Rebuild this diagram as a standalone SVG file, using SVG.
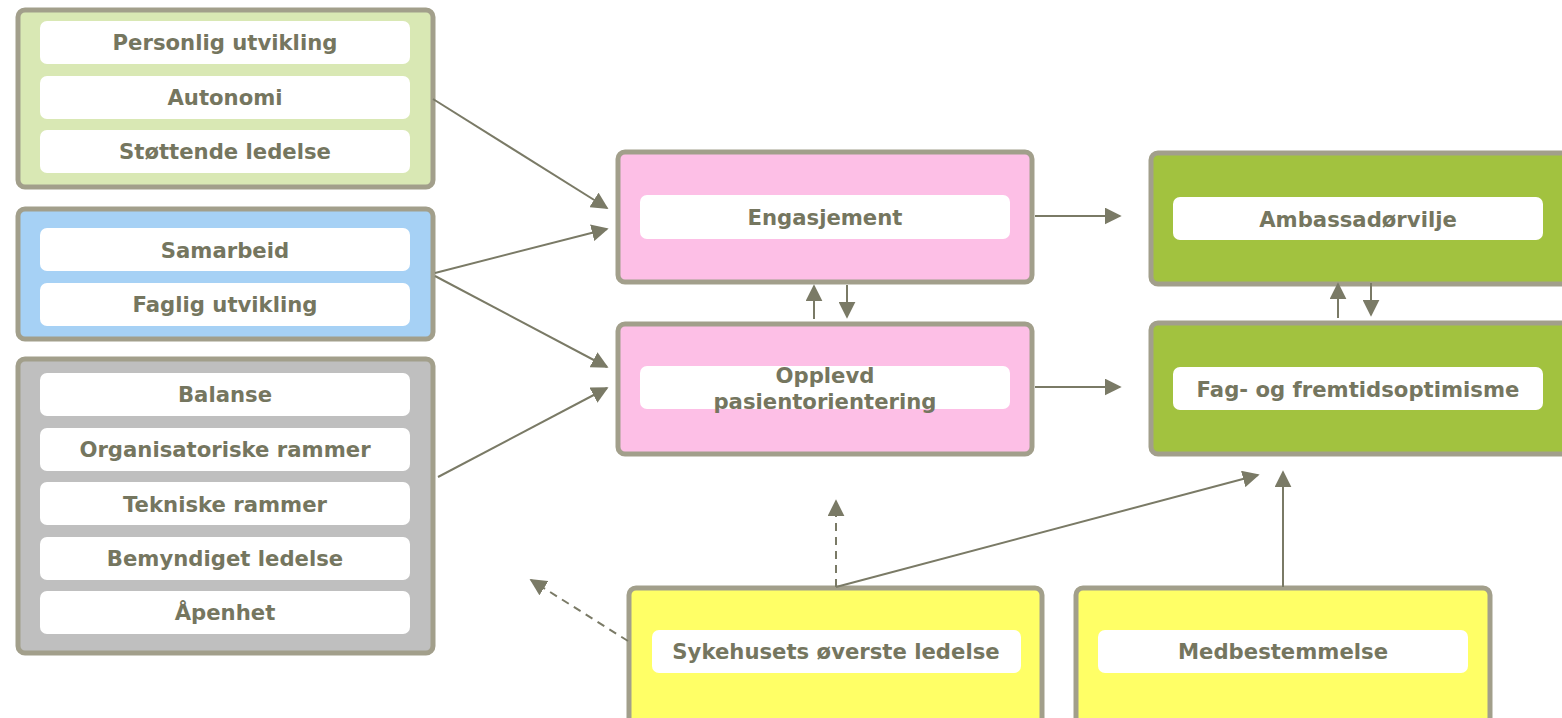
<svg xmlns="http://www.w3.org/2000/svg" width="1562" height="718" viewBox="0 0 1562 718">
<defs>
<marker id="ah" viewBox="0 0 10 10" refX="9" refY="5" markerWidth="17" markerHeight="17" markerUnits="userSpaceOnUse" orient="auto"><path d="M0,0 L10,5 L0,10 z" fill="#7a7a66"/></marker>
<style>
.outer{stroke:#a29f8b;stroke-width:5}
.inner{fill:#ffffff}
.t{font-family:"DejaVu Sans",Verdana,sans-serif;font-weight:bold;font-size:21.2px;fill:#75765f;text-anchor:middle}
.c{stroke:#7a7a66;stroke-width:2;fill:none;marker-end:url(#ah)}
.d{stroke-dasharray:8,6}
</style>
</defs>
<rect width="1562" height="718" fill="#ffffff"/>
<g id="group-green">
<rect class="outer" x="18" y="10" width="415" height="177" rx="7" fill="#d9e8b4"/>
<rect class="inner" x="40" y="21" width="370" height="43" rx="7"/>
<text class="t" x="225" y="50">Personlig utvikling</text>
<rect class="inner" x="40" y="76" width="370" height="43" rx="7"/>
<text class="t" x="225" y="105">Autonomi</text>
<rect class="inner" x="40" y="130" width="370" height="43" rx="7"/>
<text class="t" x="225" y="159">Støttende ledelse</text>
</g>
<g id="group-blue">
<rect class="outer" x="18" y="209" width="415" height="130" rx="7" fill="#a6d1f5"/>
<rect class="inner" x="40" y="228" width="370" height="43" rx="7"/>
<text class="t" x="225" y="258">Samarbeid</text>
<rect class="inner" x="40" y="283" width="370" height="43" rx="7"/>
<text class="t" x="225" y="312">Faglig utvikling</text>
</g>
<g id="group-gray">
<rect class="outer" x="18" y="359" width="415" height="294" rx="7" fill="#bfbfbf"/>
<rect class="inner" x="40" y="373" width="370" height="43" rx="7"/>
<text class="t" x="225" y="402">Balanse</text>
<rect class="inner" x="40" y="428" width="370" height="43" rx="7"/>
<text class="t" x="225" y="457">Organisatoriske rammer</text>
<rect class="inner" x="40" y="482" width="370" height="43" rx="7"/>
<text class="t" x="225" y="512">Tekniske rammer</text>
<rect class="inner" x="40" y="537" width="370" height="43" rx="7"/>
<text class="t" x="225" y="566">Bemyndiget ledelse</text>
<rect class="inner" x="40" y="591" width="370" height="43" rx="7"/>
<text class="t" x="225" y="620">Åpenhet</text>
</g>
<g id="engasjement">
<rect class="outer" x="618" y="152" width="414" height="130" rx="7" fill="#fdbfe6"/>
<rect class="inner" x="640" y="195" width="370" height="44" rx="7"/>
<text class="t" x="825" y="225">Engasjement</text>
</g>
<g id="opplevd">
<rect class="outer" x="618" y="324" width="414" height="130" rx="7" fill="#fdbfe6"/>
<rect class="inner" x="640" y="366" width="370" height="43" rx="7"/>
<text class="t" x="825" y="383">Opplevd</text>
<text class="t" x="825" y="409">pasientorientering</text>
</g>
<g id="ambassador">
<rect class="outer" x="1151" y="153" width="420" height="131" rx="7" fill="#a2c23f"/>
<rect class="inner" x="1173" y="197" width="370" height="43" rx="7"/>
<text class="t" x="1358" y="227">Ambassadørvilje</text>
</g>
<g id="fag">
<rect class="outer" x="1151" y="323" width="420" height="131" rx="7" fill="#a2c23f"/>
<rect class="inner" x="1173" y="367" width="370" height="43" rx="7"/>
<text class="t" x="1358" y="397">Fag- og fremtidsoptimisme</text>
</g>
<g id="sykehus">
<rect class="outer" x="629" y="588" width="413" height="140" rx="7" fill="#ffff66"/>
<rect class="inner" x="652" y="630" width="369" height="43" rx="7"/>
<text class="t" x="836" y="659">Sykehusets øverste ledelse</text>
</g>
<g id="medbestemmelse">
<rect class="outer" x="1076" y="588" width="414" height="140" rx="7" fill="#ffff66"/>
<rect class="inner" x="1098" y="630" width="370" height="43" rx="7"/>
<text class="t" x="1283" y="659">Medbestemmelse</text>
</g>
<g id="connectors">
<line class="c" x1="433" y1="99" x2="607" y2="208"/>
<line class="c" x1="435" y1="273" x2="607" y2="229"/>
<line class="c" x1="435" y1="276" x2="607" y2="367"/>
<line class="c" x1="438" y1="477" x2="607" y2="388"/>
<line class="c" x1="1035" y1="216" x2="1120" y2="216"/>
<line class="c" x1="1035" y1="387" x2="1120" y2="387"/>
<line class="c" x1="814" y1="319" x2="814" y2="286"/>
<line class="c" x1="847" y1="285" x2="847" y2="317"/>
<line class="c" x1="1338" y1="318" x2="1338" y2="284"/>
<line class="c" x1="1371" y1="283" x2="1371" y2="315"/>
<line class="c d" x1="836" y1="587" x2="836" y2="501"/>
<line class="c d" x1="628" y1="641" x2="531" y2="580"/>
<line class="c" x1="836" y1="587" x2="1258" y2="475"/>
<line class="c" x1="1283" y1="587" x2="1283" y2="472"/>
</g>
</svg>
